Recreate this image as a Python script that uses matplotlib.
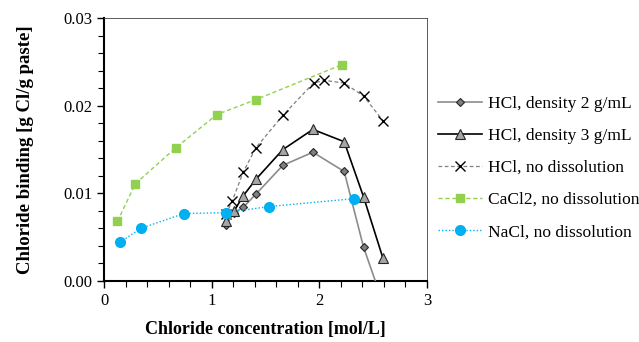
import matplotlib.pyplot as plt
from matplotlib.ticker import MultipleLocator

plt.rcParams["font.family"] = ["Liberation Serif", "DejaVu Serif"]

# HCl, density 2 g/mL
hcl_d2_x = [1.134, 1.209, 1.292, 1.410, 1.661, 1.940, 2.231, 2.411, 2.591]
hcl_d2_y = [0.0064, 0.0078, 0.0084, 0.0099, 0.0132, 0.0147, 0.0125, 0.00385, -0.0025]

# HCl, density 3 g/mL
hcl_d3_x = [1.134, 1.209, 1.292, 1.410, 1.661, 1.940, 2.231, 2.411, 2.591]
hcl_d3_y = [0.0069, 0.0080, 0.0097, 0.0116, 0.0150, 0.0173, 0.0159, 0.0096, 0.0026]

# HCl, no dissolution
hcl_nd_x = [1.134, 1.190, 1.292, 1.410, 1.661, 1.946, 2.048, 2.231, 2.411, 2.591]
hcl_nd_y = [0.0076, 0.0091, 0.0124, 0.0152, 0.0189, 0.0226, 0.0229, 0.0226, 0.0211, 0.0183]

# CaCl2, no dissolution
cacl2_x = [0.124, 0.291, 0.666, 1.048, 1.410, 2.210]
cacl2_y = [0.0068, 0.0111, 0.0152, 0.0190, 0.0207, 0.0247]

# NaCl, no dissolution
nacl_x = [0.146, 0.341, 0.741, 1.134, 1.534, 2.325]
nacl_y = [0.0044, 0.0060, 0.0077, 0.0078, 0.0085, 0.0094]

fig = plt.figure(figsize=(6.39, 3.42), dpi=100)
ax = fig.add_axes([0.1628, 0.1784, 0.5054, 0.7684])

ax.plot(hcl_d2_x, hcl_d2_y, color="#8c8c8c", lw=1.2, marker="D", ms=4.5,
        mfc="#7f7f7f", mec="#262626", mew=0.8, label="HCl, density 2 g/mL", zorder=4)
ax.plot(hcl_d3_x, hcl_d3_y, color="black", lw=1.2, marker="^", ms=6.5,
        mfc="#a6a6a6", mec="#262626", mew=0.8, label="HCl, density 3 g/mL", zorder=4)
ax.plot(hcl_nd_x, hcl_nd_y, color="#808080", lw=0.9, ls=(0, (3, 2)), marker="x",
        ms=7, mec="black", mew=1.0, label="HCl, no dissolution", zorder=3)
ax.plot(cacl2_x, cacl2_y, color="#92d050", lw=1.0, ls=(0, (3, 2)), marker="s",
        ms=6, mfc="#92d050", mec="#92d050", label="CaCl2, no dissolution", zorder=3)
ax.plot(nacl_x, nacl_y, color="#00b0f0", lw=1.0, ls=(0, (1, 1.5)), marker="o",
        ms=7, mfc="#00b0f0", mec="#00b0f0", label="NaCl, no dissolution", zorder=5)

ax.set_xlim(0, 3)
ax.set_ylim(0, 0.03)
ax.xaxis.set_major_locator(MultipleLocator(1))
ax.xaxis.set_minor_locator(MultipleLocator(0.2))
ax.yaxis.set_major_locator(MultipleLocator(0.01))
ax.yaxis.set_minor_locator(MultipleLocator(0.002))
ax.yaxis.set_major_formatter(plt.FormatStrFormatter("%.2f"))
ax.tick_params(which="major", direction="out", length=5, width=1, labelsize=12)
ax.tick_params(which="minor", direction="out", length=4, width=0.8)

for side in ("left", "bottom"):
    ax.spines[side].set_linewidth(1.5)
for side in ("top", "right"):
    ax.spines[side].set_linewidth(0.6)
    ax.spines[side].set_color("#404040")

ax.set_xlabel("Chloride concentration [mol/L]", fontsize=13, fontweight="bold",
              labelpad=9)
ax.set_ylabel("Chloride binding [g Cl/g paste]", fontsize=13.5, fontweight="bold",
              labelpad=21)

ax.legend(loc="center left", bbox_to_anchor=(0.6854, 0.509),
          bbox_transform=fig.transFigure, frameon=False, fontsize=12.5,
          borderpad=0, borderaxespad=0, handlelength=2.55,
          handletextpad=0.35, labelspacing=0.92)

fig.savefig("out.png", dpi=100)
